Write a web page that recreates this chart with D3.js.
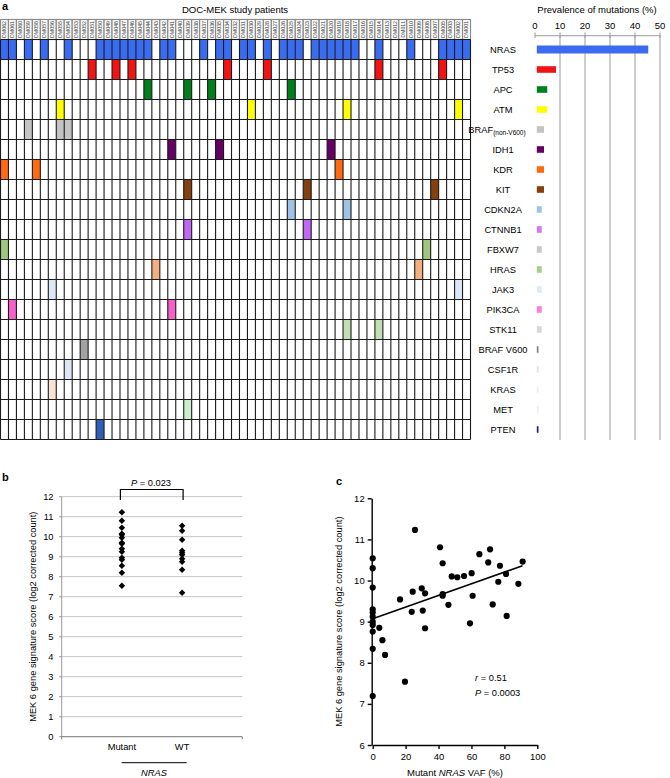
<!DOCTYPE html>
<html><head><meta charset="utf-8">
<script src="https://cdn.jsdelivr.net/npm/d3@7"></script>
<style>body{margin:0;background:#fff}svg{display:block;font-family:"Liberation Sans",Arial,Helvetica,sans-serif}</style>
</head><body><svg id="c" width="670" height="778"></svg>
<script>
// ---------- DATA ----------
const patients = ["DM062","DM061","DM060","DM059","DM058","DM057","DM056","DM055","DM054","DM053","DM052","DM051","DM050","DM049","DM048","DM047","DM046","DM045","DM044","DM043","DM042","DM041","DM040","DM039","DM038","DM037","DM036","DM035","DM034","DM032","DM031","DM030","DM029","DM028","DM027","DM026","DM025","DM024","DM023","DM022","DM021","DM020","DM019","DM018","DM017","DM016","DM015","DM014","DM013","DM012","DM011","DM010","DM009","DM008","DM007","DM005","DM003","DM002","DM001"];
const genes = ["NRAS","TP53","APC","ATM","BRAF(non-V600)","IDH1","KDR","KIT","CDKN2A","CTNNB1","FBXW7","HRAS","JAK3","PIK3CA","STK11","BRAF V600","CSF1R","KRAS","MET","PTEN"];
const prevalence = [45.3,8.4,4.9,4.9,3.6,3.6,3.6,3.6,2.7,2.7,2.7,2.7,2.7,2.7,2.7,1.4,1.4,1.4,1.4,1.4];
const mutatedCols = [
  [0,1,3,5,8,12,13,14,15,16,17,18,20,21,25,27,28,30,31,33,35,36,37,39,40,41,42,43,44,47,51,55,56,57,58],
  [11,14,16,28,33,47,55],
  [18,23,26,36],
  [7,31,43,57],
  [3,7,8],
  [21,27,41],
  [0,4,42],
  [23,38,54],
  [36,43],
  [23,38],
  [0,53],
  [19,52],
  [6,57],
  [1,21],
  [43,47],
  [10],
  [8],
  [6],
  [23],
  [12]
];
const cellColors = ["#3a6cf2","#f21414","#00801c","#ffff00","#c4c4c4","#660066","#ff6a10","#86400f","#9fc3e7","#c266f5","#9fc57e","#f4ae80","#dce8f6","#f55ecb","#c3dfb2","#a2a2a2","#dde6f4","#fbe3d3","#cdeecd","#2f5eb8"];
const barColors  = ["#3a6cf2","#f21414","#00801c","#ffff00","#c4c4c4","#660066","#ff6a10","#86400f","#9fc3e7","#d377f5","#c8c8c8","#a7cf8c","#dfeaf7","#f77ee2","#d8d8d8","#808080","#e0e4ee","#eaf4e4","#e4f2e0","#1c1c8c"];
const prevTicks = [0,10,20,30,40,50];

// panel b
const mutantScores = [11.22,10.8,10.45,10.15,10.1,9.95,9.7,9.65,9.4,9.25,8.95,8.85,8.55,8.2,7.55];
const wtScores = [10.55,10.3,9.85,9.3,9.2,9.1,8.9,8.75,8.35,7.2];
const bTicks = [0,1,2,3,4,5,6,7,8,9,10,11,12];

// panel c
const vaf =   [0,0,0,0,0,0,0,0,0,0,0,4.0,5.9,7.5,16.6,19.6,23.7,24.3,25.7,29.8,30.4,31.8,31.8,40.9,42.5,42.5,42.5,46.0,48.0,51.4,55.5,59.1,60.1,60.7,64.8,70.2,71.3,72.9,76.3,77.3,81.0,81.4,88.5,91.1];
const score = [10.54,10.30,9.83,9.30,9.22,9.12,9.0,8.92,8.76,8.34,7.19,8.85,8.55,8.19,9.54,7.54,9.24,9.73,11.23,9.81,9.27,9.69,8.84,10.81,10.42,9.63,9.67,9.41,10.10,10.08,10.11,8.96,10.18,9.63,10.64,10.44,10.76,9.42,9.97,10.36,10.16,9.14,9.92,10.46];
const fitLine = [[0,9.07],[91,10.36]];
const cXTicks = [0,20,40,60,80,100];
const cYTicks = [6,7,8,9,10,11,12];

// ---------- DRAW ----------
const svg = d3.select("#c");
const F = "Liberation Sans, Arial, sans-serif";

// panel a
svg.append("text").attr("x",2).attr("y",10).attr("font-weight","bold").attr("font-size",11).text("a");
svg.append("text").attr("x",235).attr("y",13).attr("text-anchor","middle").attr("font-size",9.5).text("DOC-MEK study patients");

const xCol = d3.scaleBand().domain(d3.range(patients.length)).range([0.5,470.5]);
const yRow = d3.scaleBand().domain(d3.range(genes.length)).range([39.5,439.5]);

// header cells
const hdr = svg.append("g");
hdr.selectAll("rect").data(patients).join("rect")
  .attr("x",(d,i)=>xCol(i)).attr("y",19.5).attr("width",xCol.bandwidth()).attr("height",20)
  .attr("fill","#fff").attr("stroke","#8a8a8a").attr("stroke-width",1.2);
hdr.selectAll("text").data(patients).join("text")
  .attr("transform",(d,i)=>`translate(${xCol(i)+xCol.bandwidth()/2+1.9},29.5) rotate(-90)`)
  .attr("text-anchor","middle").attr("font-size",5.3).attr("fill","#333").text(d=>d);

// colored cells
const cells = [];
mutatedCols.forEach((cols,g)=>cols.forEach(c=>cells.push({g,c})));
svg.append("g").selectAll("rect").data(cells).join("rect")
  .attr("x",d=>xCol(d.c)).attr("y",d=>yRow(d.g)).attr("width",xCol.bandwidth()).attr("height",yRow.bandwidth())
  .attr("fill",d=>cellColors[d.g]);

// grid lines
const grid = svg.append("g").attr("stroke","#1a1a1a").attr("stroke-width",1.1);
grid.selectAll("line.v").data(d3.range(patients.length+1)).join("line").attr("class","v")
  .attr("x1",i=>i<patients.length?xCol(i):xCol(i-1)+xCol.bandwidth()).attr("x2",i=>i<patients.length?xCol(i):xCol(i-1)+xCol.bandwidth())
  .attr("y1",39.5).attr("y2",439.5);
grid.selectAll("line.h").data(d3.range(genes.length+1)).join("line").attr("class","h")
  .attr("x1",0.5).attr("x2",470.5)
  .attr("y1",i=>i<genes.length?yRow(i):439.5).attr("y2",i=>i<genes.length?yRow(i):439.5);

// bar chart
const xPrev = d3.scaleLinear().domain([0,50]).range([535,660]);
svg.append("text").attr("x",597).attr("y",13).attr("text-anchor","middle").attr("font-size",9.5).text("Prevalence of mutations (%)");
const ax = svg.append("g");
ax.selectAll("line.g").data(prevTicks.slice(1)).join("line").attr("class","g")
  .attr("x1",d=>xPrev(d)).attr("x2",d=>xPrev(d)).attr("y1",35.7).attr("y2",440).attr("stroke","#9a9a9a").attr("stroke-width",1);
ax.append("line").attr("x1",xPrev(0)).attr("x2",xPrev(50)).attr("y1",35.7).attr("y2",35.7).attr("stroke","#9a9a9a");
ax.selectAll("line.t").data(prevTicks).join("line").attr("class","t")
  .attr("x1",d=>xPrev(d)).attr("x2",d=>xPrev(d)).attr("y1",32.5).attr("y2",38).attr("stroke","#9a9a9a");
ax.selectAll("text").data(prevTicks).join("text")
  .attr("x",d=>xPrev(d)).attr("y",28.5).attr("text-anchor","middle").attr("font-size",9.5).text(d=>d);

svg.append("g").selectAll("rect").data(prevalence).join("rect")
  .attr("x",xPrev(0)+1.8)
  .attr("y",(d,i)=>yRow(i)+yRow.bandwidth()/2-(i===0?4:3.3))
  .attr("width",d=>xPrev(d)-xPrev(0)-1.8)
  .attr("height",(d,i)=>i===0?8:6.6)
  .attr("fill",(d,i)=>barColors[i]);

const gl = svg.append("g");
genes.forEach((g,i)=>{
  const t = gl.append("text").attr("x",503).attr("y",yRow(i)+yRow.bandwidth()/2+3.3)
    .attr("text-anchor","middle").attr("font-size",9.3);
  if(g==="BRAF(non-V600)"){
    t.attr("x",497);
    t.append("tspan").text("BRAF");
    t.append("tspan").attr("font-size",6.5).attr("dy",2.2).text("(non-V600)");
  } else t.text(g);
});

// ---------- panel b ----------
svg.append("text").attr("x",2).attr("y",481).attr("font-weight","bold").attr("font-size",11).text("b");
const xB = d3.scaleLinear().domain([0,3]).range([61.7,242.3]);
const yB = d3.scaleLinear().domain([0,12]).range([736.7,496.7]);
const gb = svg.append("g");
gb.selectAll("line.g").data(bTicks.slice(1)).join("line").attr("class","g")
  .attr("x1",xB(0)).attr("x2",xB(3)).attr("y1",d=>yB(d)).attr("y2",d=>yB(d)).attr("stroke","#c4c4c4");
gb.append("line").attr("x1",xB(0)).attr("x2",xB(0)).attr("y1",yB(0)).attr("y2",yB(12)).attr("stroke","#999");
gb.selectAll("line.t").data(bTicks).join("line").attr("class","t")
  .attr("x1",xB(0)-2.5).attr("x2",xB(0)).attr("y1",d=>yB(d)).attr("y2",d=>yB(d)).attr("stroke","#999");
gb.append("line").attr("x1",xB(0)).attr("x2",xB(3)).attr("y1",yB(0)).attr("y2",yB(0)).attr("stroke","#777");
gb.selectAll("line.xt").data([0,3]).join("line").attr("class","xt")
  .attr("x1",d=>xB(d)).attr("x2",d=>xB(d)).attr("y1",yB(0)).attr("y2",yB(0)+2.5).attr("stroke","#777");
gb.selectAll("text.yl").data(bTicks).join("text").attr("class","yl")
  .attr("x",53.5).attr("y",d=>yB(d)+3.3).attr("text-anchor","end").attr("font-size",9.3).text(d=>d);
gb.append("text").attr("x",xB(1)).attr("y",750).attr("text-anchor","middle").attr("font-size",9.3).text("Mutant");
gb.append("text").attr("x",xB(2)).attr("y",750).attr("text-anchor","middle").attr("font-size",9.3).text("WT");
gb.append("line").attr("x1",121.7).attr("x2",186.7).attr("y1",762.7).attr("y2",762.7).attr("stroke","#000").attr("stroke-width",1);
gb.append("text").attr("x",154).attr("y",776).attr("text-anchor","middle").attr("font-size",9.3).attr("font-style","italic").text("NRAS");
gb.append("text").attr("transform",`translate(36,${(yB(0)+yB(12))/2}) rotate(-90)`)
  .attr("text-anchor","middle").attr("font-size",9.3).text("MEK 6 gene signature score (log2 corrected count)");
// bracket
gb.append("path").attr("d",`M${xB(1)-1.5},500 V489.5 H${xB(2)+1} V500`).attr("fill","none").attr("stroke","#000").attr("stroke-width",1.2);
const pt = gb.append("text").attr("x",151).attr("y",486).attr("text-anchor","middle").attr("font-size",9.3);
pt.append("tspan").attr("font-style","italic").text("P");
pt.append("tspan").text(" = 0.023");
const diamond = d3.symbol().type(d3.symbolSquare).size(21);
const bPts = mutantScores.map(v=>({x:1,v})).concat(wtScores.map(v=>({x:2,v})));
gb.selectAll("path.pt").data(bPts).join("path").attr("class","pt")
  .attr("d",diamond).attr("transform",d=>`translate(${xB(d.x)},${yB(d.v)}) rotate(45)`).attr("fill","#000");

// ---------- panel c ----------
svg.append("text").attr("x",336).attr("y",485).attr("font-weight","bold").attr("font-size",11).text("c");
const xC = d3.scaleLinear().domain([0,100]).range([372.7,537.3]);
const yC = d3.scaleLinear().domain([6,12]).range([745,498.3]);
const gc = svg.append("g");
gc.append("g").attr("transform","translate(0,745)")
  .call(d3.axisBottom(xC).tickValues(cXTicks).tickFormat(d3.format("d")).tickSize(4).tickSizeOuter(0))
  .call(g=>{g.selectAll("text").attr("font-size",9.5).attr("font-family",F).attr("dy","0.85em");
            g.selectAll("path,line").attr("stroke","#000").attr("stroke-width",1.4);});
gc.append("g").attr("transform","translate(371.7,0)")
  .call(d3.axisLeft(yC).tickValues(cYTicks).tickFormat(d3.format("d")).tickSize(4).tickSizeOuter(0))
  .call(g=>{g.selectAll("text").attr("font-size",9.5).attr("font-family",F);
            g.selectAll("path,line").attr("stroke","#000").attr("stroke-width",1.4);});
gc.selectAll("circle").data(vaf).join("circle")
  .attr("cx",d=>xC(d)).attr("cy",(d,i)=>yC(score[i])).attr("r",3.1).attr("fill","#000");
gc.append("path").datum(fitLine).attr("d",d3.line().x(d=>xC(d[0])).y(d=>yC(d[1])))
  .attr("stroke","#000").attr("stroke-width",1.6).attr("fill","none");
const t1 = gc.append("text").attr("x",475).attr("y",681).attr("font-size",9.3);
t1.append("tspan").attr("font-style","italic").text("r"); t1.append("tspan").text(" = 0.51");
const t2 = gc.append("text").attr("x",475).attr("y",695.5).attr("font-size",9.3);
t2.append("tspan").attr("font-style","italic").text("P"); t2.append("tspan").text(" = 0.0003");
const xt = gc.append("text").attr("x",455).attr("y",776).attr("text-anchor","middle").attr("font-size",9.5);
xt.append("tspan").text("Mutant "); xt.append("tspan").attr("font-style","italic").text("NRAS"); xt.append("tspan").text(" VAF (%)");
gc.append("text").attr("transform",`translate(342,${(yC(6)+yC(12))/2}) rotate(-90)`)
  .attr("text-anchor","middle").attr("font-size",9.3).text("MEK 6 gene signature score (log2 corrected count)");
</script></body></html>
